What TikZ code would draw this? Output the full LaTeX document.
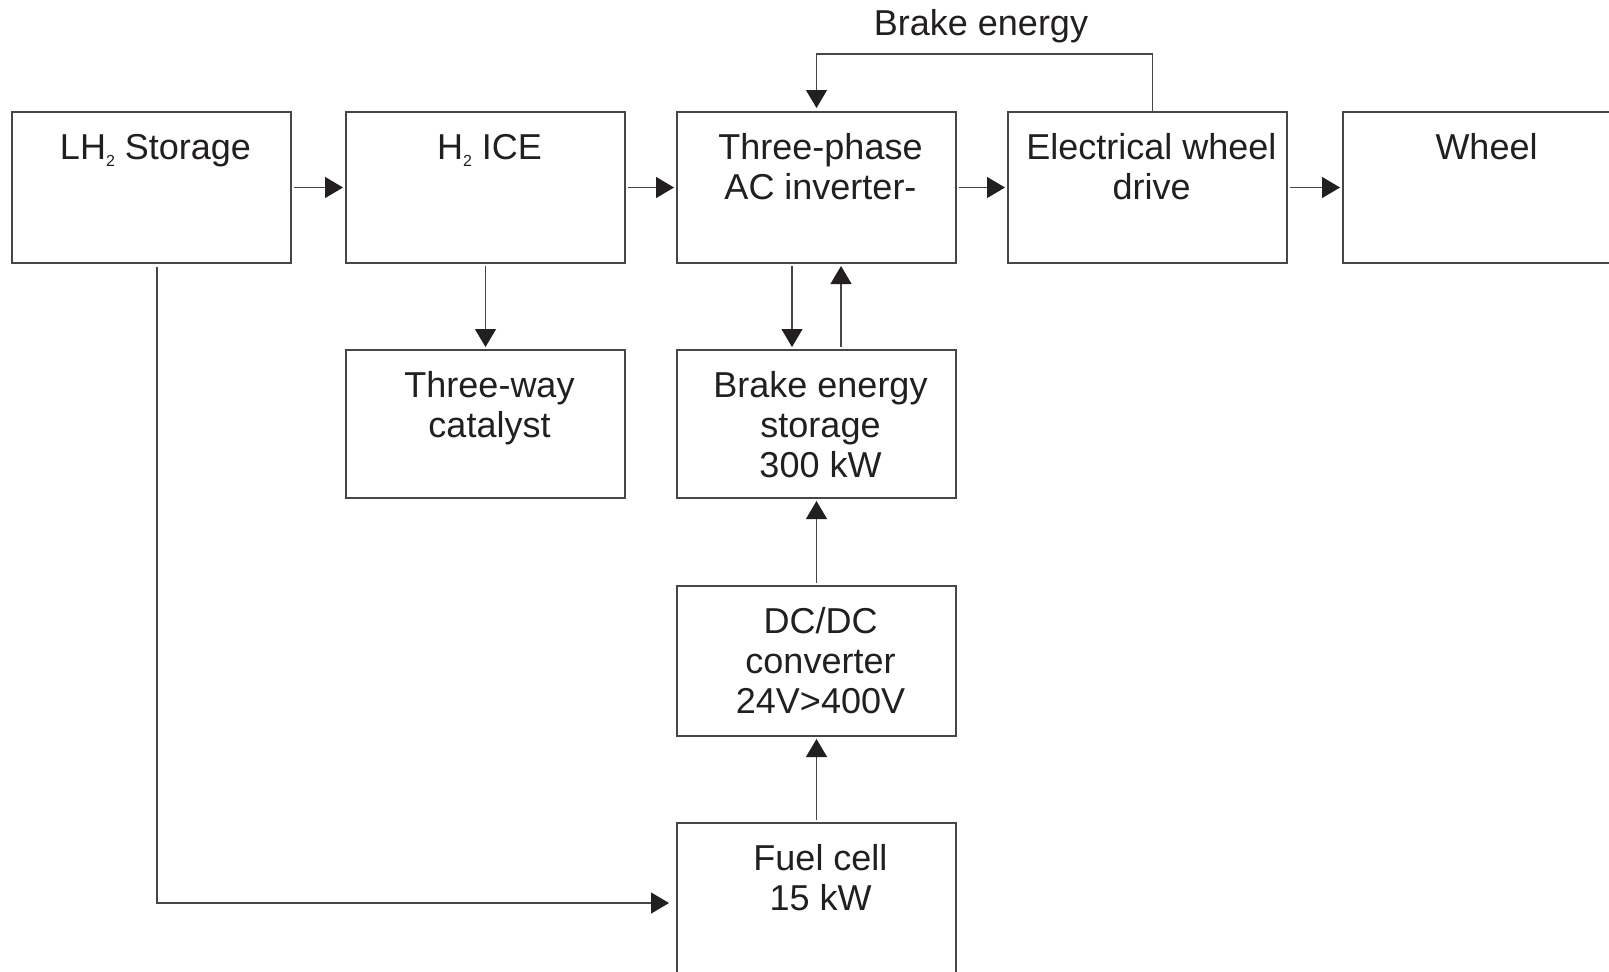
\documentclass[tikz,border=0pt]{standalone}
\usepackage{fontspec}
\setmainfont{Liberation Sans}
\usetikzlibrary{arrows.meta,calc}
\definecolor{ink}{RGB}{35,31,32}
\definecolor{edge}{RGB}{70,70,70}
\newcommand{\blktext}[2]{\parbox[t][#1][t]{139.5pt}{\centering\leftskip=4pt plus 1fil\rule{0pt}{23.5pt}\ignorespaces#2\par}}
\newcommand{\subtwo}{\raisebox{-0.4ex}{\fontsize{8pt}{8pt}\selectfont 2}}
\begin{document}
\begin{tikzpicture}[x=0.5pt,y=-0.5pt,
 blk/.style={draw=edge, line width=0.6pt, inner sep=0pt, outer sep=0pt, anchor=north west, text=ink, font=\fontsize{18pt}{20pt}\selectfont},
 arr/.style={draw=edge, line width=0.6pt, -{Triangle[length=9pt,width=10.5pt,color=ink]}, shorten <=1.5pt, shorten >=1.5pt},
]
\useasboundingbox (0,0) rectangle (1609,971);
\clip (0,0) rectangle (1609,971);
\fill[white] (0,0) rectangle (1609,971);

\node[blk] (lh) at (12,112) {\blktext{75.5pt}{LH\subtwo{} Storage}};
\node[blk] (ice) at (346,112) {\blktext{75.5pt}{H\subtwo{} ICE}};
\node[blk] (tp) at (677,112) {\blktext{75.5pt}{Three-phase\\AC inverter-}};
\node[blk] (ewd) at (1008,112) {\blktext{75.5pt}{Electrical wheel\\drive}};
\node[blk] (wh) at (1343,112) {\blktext{75.5pt}{Wheel}};
\node[blk] (cat) at (346,350) {\blktext{74pt}{Three-way\\catalyst}};
\node[blk] (bes) at (677,350) {\blktext{74pt}{Brake energy\\storage\\300 kW}};
\node[blk] (dc) at (677,586) {\blktext{75pt}{DC/DC\\converter\\24V>400V}};
\node[blk] (fc) at (677,823) {\blktext{90pt}{Fuel cell\\15 kW}};
\node[text=ink, font=\fontsize{18pt}{20pt}\selectfont, anchor=base, inner sep=0pt] (be) at (981,35) {Brake energy};

\draw[arr] (lh.east) -- (ice.west);
\draw[arr] (ice.east) -- (tp.west);
\draw[arr] (tp.east) -- (ewd.west);
\draw[arr] (ewd.east) -- (wh.west);
\draw[arr] (ice.south) -- (cat.north);
\draw[arr] ([xshift=-12.25pt]tp.south) -- ([xshift=-12.25pt]bes.north);
\draw[arr] ([xshift=12.25pt]bes.north) -- ([xshift=12.25pt]tp.south);
\draw[arr] (dc.north) -- (bes.south);
\draw[arr] (fc.north) -- (dc.south);
\draw[arr, shorten <=2pt, shorten >=4pt] ([xshift=2.75pt]lh.south) |- ([yshift=-40pt]fc.north west);
\draw[arr, shorten <=0pt, shorten >=2pt] ([xshift=2.5pt]ewd.north) -- ++(0,-58) -| (tp.north);
\end{tikzpicture}
\end{document}
